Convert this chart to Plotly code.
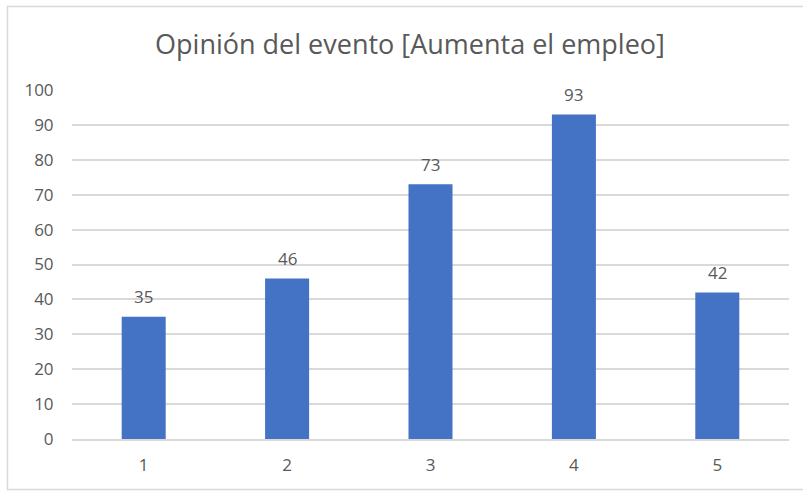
import plotly.graph_objects as go

categories = ["1", "2", "3", "4", "5"]
values = [35, 46, 73, 93, 42]
y_ticks = [0, 10, 20, 30, 40, 50, 60, 70, 80, 90, 100]
title_text = "Opinión del evento [Aumenta el empleo]"

fig = go.Figure()
fig.add_trace(go.Bar(
    x=categories, y=values,
    marker=dict(color="#4472C4", line=dict(width=0)),
    hoverinfo="skip",
))

for i, v in enumerate(values):
    fig.add_annotation(x=i, y=v, text=str(v), showarrow=False,
                       xref="x", yref="y",
                       yanchor="middle", yshift=20,
                       font=dict(family="Open Sans", size=17, color="#595959"))

# chart frame (left/top/bottom visible; right cut off)
fig.add_shape(type="rect", xref="paper", yref="paper",
              x0=(7.5 - 72) / 717, x1=(830 - 72) / 717,
              y0=(439 - 489.5) / 349, y1=(439 - 6.5) / 349,
              line=dict(color="#D9D9D9", width=1.5), layer="below")

fig.update_layout(
    width=803, height=491,
    margin=dict(l=72, r=14, t=90, b=52, autoexpand=False),
    paper_bgcolor="white", plot_bgcolor="white",
    bargap=0.693,
    showlegend=False,
    title=dict(text=title_text, x=410 / 803, xanchor="center",
               y=1 - 45 / 491, yanchor="middle",
               font=dict(family="Open Sans", size=27, color="#595959")),
    font=dict(family="Open Sans", color="#595959", size=17),
)
fig.update_xaxes(type="category", automargin=False, showgrid=False, showline=True,
                 linecolor="#D9D9D9", linewidth=1.5,
                 ticks="outside", ticklen=10, tickcolor="rgba(0,0,0,0)",
                 tickfont=dict(size=17, color="#595959"))
fig.update_yaxes(range=[0, 100], tickvals=y_ticks, automargin=False, showgrid=True,
                 gridcolor="#D9D9D9", gridwidth=1.5, zeroline=False,
                 ticks="outside", ticklen=14, tickcolor="rgba(0,0,0,0)",
                 tickfont=dict(size=17, color="#595959"))

fig.write_html("out.html", config={"displayModeBar": False},
               post_script="document.body.style.margin='0px';")
